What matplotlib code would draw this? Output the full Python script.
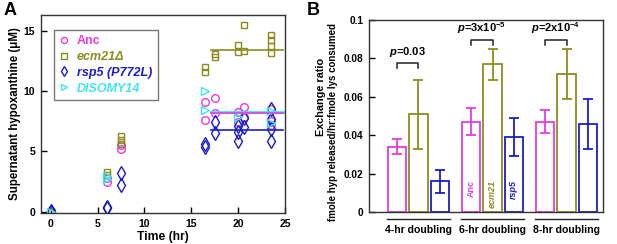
import numpy as np
import matplotlib
matplotlib.use('Agg')
import matplotlib.pyplot as plt

plt.rcParams['font.family'] = 'Liberation Sans'
plt.rcParams['font.weight'] = 'bold'
plt.rcParams['mathtext.fontset'] = 'custom'
plt.rcParams['mathtext.rm'] = 'Liberation Sans:bold'
plt.rcParams['mathtext.it'] = 'Liberation Sans:bold:italic'
plt.rcParams['mathtext.bf'] = 'Liberation Sans:bold'

# colours
MAG = '#e63ce0'
OLV = '#8c8c1e'
BLU = '#1c1cc8'
CYN = '#40e4f0'

# ---- panel A data ----
anc_t = [0, 0, 6, 6, 7.5, 7.5, 16.5, 16.5, 17.5, 17.5, 20, 20, 20.6, 20.6, 23.5, 23.5, 23.5]
anc_y = [0, 0.05, 2.5, 2.8, 5.2, 5.55, 9.1, 7.6, 9.4, 8.2, 8.3, 7.45, 8.65, 7.85, 8.5, 7.5, 7.2]
ecm_t = [0, 0, 6, 6, 7.5, 7.5, 7.5, 16.5, 16.5, 17.5, 17.5, 20, 20, 20.6, 20.6, 23.5, 23.5, 23.5, 23.5]
ecm_y = [0, 0.05, 3.3, 3.05, 6.3, 5.95, 5.65, 11.95, 11.6, 13.1, 12.85, 13.8, 13.2, 15.5, 13.35, 14.6, 14.25, 13.75, 13.15]
rsp_t = [0, 0, 6, 6, 7.5, 7.5, 16.5, 16.5, 17.5, 17.5, 20, 20, 20, 20.6, 20.6, 23.5, 23.5, 23.5, 23.5]
rsp_y = [0, 0.1, 0.4, 0.3, 3.25, 2.2, 5.65, 5.4, 7.4, 6.5, 7.1, 6.6, 5.9, 7.75, 7.05, 8.5, 7.7, 6.85, 5.9]
dis_t = [0, 6, 6, 16.5, 16.5, 20, 23.5, 23.5]
dis_y = [0, 2.75, 3.0, 10.0, 8.4, 7.85, 8.35, 7.35]

# plateau levels
plateau_x = [17.1, 24.75]
anc_plat = 8.15
ecm_plat = 13.42
rsp_plat = 6.8
dis_plat = 8.3

# ---- panel B data ----
groups = ['4-hr doubling', '6-hr doubling', '8-hr doubling']
anc_ratio = [0.034, 0.047, 0.047]
anc_err = [0.004, 0.007, 0.006]
ecm_ratio = [0.051, 0.077, 0.072]
ecm_err = [0.018, 0.008, 0.013]
rsp_ratio = [0.016, 0.039, 0.046]
rsp_err = [0.006, 0.010, 0.013]
p_labels = [r'$p$=0.03', r'$p$=3x10$^{-5}$', r'$p$=2x10$^{-4}$']
p_heights = [0.0776, 0.0896, 0.0896]

fig = plt.figure(figsize=(6.17, 2.44), dpi=100)

# ================= Panel A =================
axA = fig.add_axes([0.066, 0.127, 0.396, 0.812])
ms = 5.5
axA.plot(anc_t, anc_y, 'o', ms=ms, mfc='none', mec=MAG, mew=1, label='Anc')
axA.plot(ecm_t, ecm_y, 's', ms=ms - 0.5, mfc='none', mec=OLV, mew=1, label='ecm21Δ')
axA.plot(rsp_t, rsp_y, 'd', ms=ms + 1.5, mfc='none', mec=BLU, mew=1, label='rsp5 (P772L)')
axA.plot(dis_t, dis_y, '>', ms=ms + 0.5, mfc='none', mec=CYN, mew=1, label='DISOMY14')
axA.plot(plateau_x, [ecm_plat] * 2, color=OLV, lw=1.2)
axA.plot(plateau_x, [dis_plat] * 2, color=CYN, lw=2.0)
axA.plot(plateau_x, [anc_plat] * 2, color=MAG, lw=1.2)
axA.plot(plateau_x, [rsp_plat] * 2, color=BLU, lw=1.2)
axA.set_xlim(-1.07, 25)
axA.set_ylim(-0.1, 16.3)
axA.set_xticks([0, 5, 10, 15, 20, 25])
axA.set_yticks([0, 5, 10, 15])
axA.tick_params(direction='in', length=4, width=1, labelsize=7.5, pad=4)
for s in axA.spines.values():
    s.set_linewidth(1.0)
    s.set_color('#333333')
axA.set_xlabel('Time (hr)', fontsize=8.7, fontweight='bold', labelpad=2)
axA.set_ylabel('Supernatant hypoxanthine (μM)', fontsize=8.3, fontweight='bold', labelpad=2)

leg = axA.legend(loc='upper left', bbox_to_anchor=(0.053, 0.925), fontsize=9,
                 frameon=True, fancybox=False, edgecolor='#777777', framealpha=1,
                 handlelength=0.8, handletextpad=0.6, labelspacing=0.3,
                 borderpad=0.45, borderaxespad=0, markerscale=0.8)
leg.get_frame().set_linewidth(1.0)
for txt, col, ital in zip(leg.get_texts(), [MAG, OLV, BLU, CYN], [False, True, True, True]):
    txt.set_color(col)
    txt.set_fontweight('bold')
    if ital:
        txt.set_fontstyle('italic')

fig.text(0.005, 0.99, 'A', fontsize=13, fontweight='bold', va='top')

# ================= Panel B =================
axB = fig.add_axes([0.5985, 0.131, 0.3785, 0.787])
x = np.arange(len(groups))
off = 0.288
w = 0.247
ekw = dict(elinewidth=1.3, capthick=1.3)
for xs, vals, errs, col in [(x - off, anc_ratio, anc_err, MAG),
                            (x, ecm_ratio, ecm_err, OLV),
                            (x + off, rsp_ratio, rsp_err, BLU)]:
    axB.bar(xs, vals, width=w, fill=False, edgecolor=col, linewidth=1.3)
    axB.errorbar(xs, vals, yerr=errs, fmt='none', ecolor=col, capsize=3.8, **ekw)

axB.set_xlim(-0.665, 2.49)
axB.set_ylim(0, 0.1)
axB.set_yticks([0, 0.02, 0.04, 0.06, 0.08, 0.1])
axB.set_yticklabels(['0', '0.02', '0.04', '0.06', '0.08', '0.1'])
axB.set_xticks([])
axB.tick_params(axis='y', direction='in', length=4, width=1, labelsize=7.3, pad=4)
for s in axB.spines.values():
    s.set_linewidth(1.0)
    s.set_color('#333333')

# p-value brackets
for i in range(len(groups)):
    h = p_heights[i]
    x0, x1 = x[i] - off, x[i]
    axB.plot([x0, x0, x1, x1], [h - 0.0024, h, h, h - 0.0024], color='#222222', lw=1.1)
    axB.text((x0 + x1) / 2, h + 0.0022, p_labels[i], ha='center', va='bottom',
             fontsize=8, fontweight='bold')

# group labels with underline
for i, g in enumerate(groups):
    axB.plot([x[i] - 0.43, x[i] + 0.43], [-0.0036, -0.0036], color='#222222', lw=1.0,
             clip_on=False)
    axB.text(x[i], -0.0095, g, ha='center', va='center', fontsize=7.6, fontweight='bold')

# strain names inside middle group
for xs, name, col in [(x[1] - off, 'Anc', MAG), (x[1], 'ecm21', OLV), (x[1] + off, 'rsp5', BLU)]:
    axB.text(xs, 0.0166, name, rotation=90, ha='center', va='top', color=col,
             fontsize=6.5, fontweight='bold', fontstyle='italic' if name != 'Anc' else 'normal')

fig.text(0.521, 0.603, 'Exchange ratio', rotation=90, ha='center', va='center',
         fontsize=7.8, fontweight='bold')
fig.text(0.540, 0.5, 'fmole hyp released/hr:fmole lys consumed', rotation=90,
         ha='center', va='center', fontsize=7.0, fontweight='bold')
fig.text(0.497, 0.99, 'B', fontsize=13, fontweight='bold', va='top')

fig.savefig('out.png', dpi=100)
